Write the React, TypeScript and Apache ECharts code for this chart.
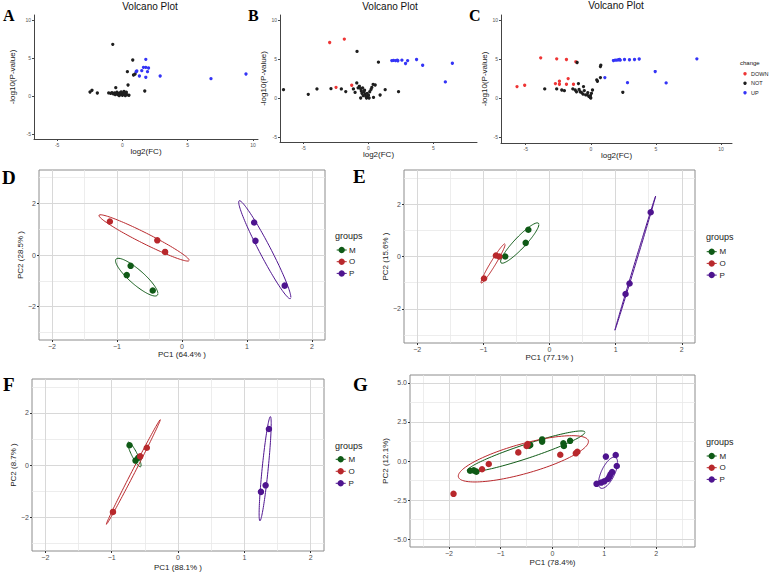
import React, { useEffect, useRef } from 'react';
import * as echarts from 'echarts';

const FONT = '"Liberation Sans", Arial, sans-serif';
const SERIF = '"Liberation Serif", "Times New Roman", serif';

// ---------- volcano data: [log2(FC), -log10(P)] ----------
const A_UP = [[1.79,4.82],[1.61,3.77],[1.79,3.77],[2.0,3.68],[1.1,3.29],[1.05,3.2],[1.48,3.33],[1.3,2.63],[1.79,2.46],[1.92,3.2],[2.89,2.63],[6.78,2.28],[9.46,2.9]];
const A_NOT = [[-0.74,6.8],[0.79,4.74],[0.38,3.2],[0.85,2.76],[0.97,2.9],[0.43,1.45],[-0.51,1.1],[1.71,0.66],[-2.48,0.53],[-2.33,0.75],[-1.92,0.39],[-1.05,0.4],[-0.9,0.35],[-0.8,0.45],[-0.7,0.3],[-0.6,0.4],[-0.5,0.3],[-0.42,0.5],[-0.35,0.2],[-0.28,0.35],[-0.2,0.15],[-0.15,0.45],[-0.08,0.25],[0,0.1],[0.05,0.4],[0.12,0.6],[0.16,0.2],[0.22,0.05],[0.28,0.3],[0.35,0.15],[-0.25,0.05],[0.08,0.3],[-0.55,0.2],[-0.1,0.55],[0.3,0.5],[0.5,0.1]];
const A_DOWN: number[][] = [];

const B_DOWN = [[-2.99,7.12],[-1.86,7.55],[-2.5,1.37],[-1.29,1.63]];
const B_NOT = [[-0.88,5.97],[0.77,4.59],[-6.55,1.07],[-4.64,0.47],[-3.97,1.16],[-2.89,1.2],[-2.09,1.16],[-1.75,0.82],[-1.16,1.16],[-1.03,0.72],[-0.9,1.93],[-0.8,1.3],[-0.7,1.5],[-0.6,1.2],[-0.55,0.9],[-0.5,0.6],[-0.45,1.3],[-0.4,0.3],[-0.35,0.8],[-0.3,1.0],[-0.25,0.5],[-0.2,0.2],[-0.1,0.6],[-0.05,0.1],[0,0.35],[0.05,0.0],[0.1,0.8],[0.26,1.36],[0.36,1.75],[0.52,1.67],[1.29,1.07],[0.9,0.39],[0.39,0.08],[2.32,0.81],[-0.6,0.0],[-0.15,0.0],[0.2,1.1]];
const B_UP = [[1.8,4.8],[1.93,4.82],[2.09,4.8],[2.22,4.85],[2.27,4.78],[2.58,4.85],[2.86,4.42],[3.02,4.8],[3.71,4.94],[4.18,4.2],[6.47,4.46],[5.93,2.06]];

const C_DOWN = [[-3.85,5.15],[-2.62,5.02],[-1.87,4.94],[-1.15,4.64],[-5.67,1.46],[-5.08,1.63],[-2.72,1.85],[-2.41,2.15],[-2.41,1.76],[-1.74,2.49],[-1.87,1.76],[-1.33,1.76]];
const C_NOT = [[-1.05,4.55],[0.77,4.2],[0.74,4.03],[0.74,2.62],[0.46,2.32],[0.51,2.15],[-0.95,1.85],[-0.56,1.46],[-3.54,1.16],[-2.62,1.16],[-2.23,1.03],[-2.03,0.94],[-1.38,1.16],[-1.2,1.03],[-1.1,0.8],[-0.82,0.8],[-0.6,0.5],[-0.4,0.4],[-0.28,0.4],[-0.15,0.2],[-0.05,0.09],[0,0],[-0.03,0.3],[0.13,1.03],[-0.23,0.69],[-0.5,0.95],[-0.7,0.69],[2.46,0.73],[0.05,0.6],[-0.9,1.1]];
const C_UP = [[1.74,4.8],[1.87,4.85],[2.0,4.85],[2.13,4.9],[2.21,4.95],[2.26,4.85],[2.59,4.93],[2.97,4.9],[3.36,4.93],[3.72,5.0],[8.15,5.02],[4.95,3.39],[1.08,2.62],[2.82,1.97],[5.79,1.93]];

const VOLCANO_TICKS = [-5, 0, 5, 10];
const CHANGE_LEVELS = ['DOWN', 'NOT', 'UP'];

// ---------- PCA data: [PC1, PC2] ----------
const D_M = [[-0.79,-0.42],[-0.85,-0.78],[-0.45,-1.38]];
const D_O = [[-1.11,1.3],[-0.38,0.57],[-0.26,0.12]];
const D_P = [[1.11,1.26],[1.13,0.55],[1.58,-1.19]];

const E_M = [[-0.67,0],[-0.36,0.52],[-0.32,1.02]];
const E_O = [[-0.99,-0.84],[-0.81,0.04],[-0.76,0.0]];
const E_P = [[1.15,-1.43],[1.21,-1.03],[1.53,1.69]];

const F_M = [[-0.73,0.76],[-0.64,0.17],[-0.6,0.28]];
const F_O = [[-0.98,-1.8],[-0.57,0.33],[-0.47,0.66]];
const F_P = [[1.25,-1.03],[1.32,-0.78],[1.37,1.38]];

const G_M = [[-1.59,-0.62],[-1.47,-0.68],[-1.52,-0.6],[-0.43,1.02],[-0.45,0.98],[-0.2,1.38],[-0.2,1.24],[0.21,1.13],[0.22,0.96],[0.34,1.29]];
const G_O = [[-1.91,-2.1],[-1.36,-0.53],[-1.23,-0.19],[-0.66,0.55],[-0.5,0.96],[-0.48,1.08],[0.15,0.4],[0.45,0.49],[0.48,0.59]];
const G_P = [[1.03,0.28],[1.22,0.38],[1.24,-0.32],[1.12,-0.85],[1.1,-1.0],[1.07,-1.15],[1.0,-1.3],[0.94,-1.38],[0.85,-1.46],[1.15,-0.7]];

const GROUPS = ['M', 'O', 'P'];
const PCA_LABELS = [
  { x: 'PC1 (64.4% )', y: 'PC2 (28.5% )' },
  { x: 'PC1 (77.1% )', y: 'PC2 (15.6% )' },
  { x: 'PC1 (88.1% )', y: 'PC2 (8.7% )' },
  { x: 'PC1 (78.4%)', y: 'PC2 (12.1%)' },
];
const PCA_X_MAJOR = [-2, -1, 0, 1, 2];
const PCA_X_MINOR = [-1.5, -0.5, 0.5, 1.5];
const PCA_Y_MAJOR = [-2, 0, 2];
const PCA_Y_MINOR = [-3, -1, 1, 3];
const G_X_MINOR = [-2.5, -1.5, -0.5, 0.5, 1.5, 2.5];
const G_Y_MAJOR = [-5, -2.5, 0, 2.5, 5];
const G_Y_MINOR = [-3.75, -1.25, 1.25, 3.75];
const ELLIPSE_LEVEL = 0.68;

const VOLC_COLORS: Record<string, string> = { DOWN: '#ee3535', NOT: '#1e1e1e', UP: '#3434f6' };
const GROUP_COLORS: Record<string, string> = { M: '#0f5a16', O: '#b8282c', P: '#4e148f' };

function ellipse(pts: number[][], level: number, seg = 120): number[][] {
  const n = pts.length;
  const mx = pts.reduce((s, p) => s + p[0], 0) / n;
  const my = pts.reduce((s, p) => s + p[1], 0) / n;
  let sxx = 0, syy = 0, sxy = 0;
  pts.forEach(p => {
    sxx += (p[0] - mx) ** 2;
    syy += (p[1] - my) ** 2;
    sxy += (p[0] - mx) * (p[1] - my);
  });
  sxx /= n - 1; syy /= n - 1; sxy /= n - 1;
  const a = Math.sqrt(sxx);
  const b = sxy / a;
  const c = Math.sqrt(Math.max(syy - b * b, 0));
  const r = Math.sqrt(-2 * Math.log(1 - level));
  const out: number[][] = [];
  for (let i = 0; i <= seg; i++) {
    const t = (2 * Math.PI * i) / seg;
    const u = Math.cos(t), v = Math.sin(t);
    out.push([mx + r * a * u, my + r * (b * u + c * v)]);
  }
  return out;
}

const minusFmt = (dec: number) => (v: number) => (v < 0 ? '\u2212' : '') + Math.abs(v).toFixed(dec);

export default function App() {
  const ref = useRef<HTMLDivElement>(null);
  useEffect(() => {
    if (!ref.current) return;
    const chart = echarts.init(ref.current, undefined, { renderer: 'svg' });

    const grids = [
      { left: 34, top: 15, width: 224, height: 124 },
      { left: 280, top: 15, width: 197, height: 127 },
      { left: 501, top: 15, width: 231, height: 128 },
      { left: 39, top: 170, width: 286, height: 170 },
      { left: 404, top: 170, width: 291, height: 173 },
      { left: 32, top: 379, width: 292, height: 172 },
      { left: 410, top: 375, width: 285, height: 172 },
    ];
    const volc = [
      { x: [-6.77, 10.38], y: [-5.66, 10.66], xGap: 8.5, yGap: 18 },
      { x: [-6.82, 8.37], y: [-5.64, 10.64], xGap: 8, yGap: 11 },
      { x: [-6.9, 10.85], y: [-5.77, 10.64], xGap: 7.5, yGap: 8.5 },
    ];
    const pca = [
      { x: [-2.2, 2.2], y: [-3.3, 3.3], xGap: 10.5, yGap: 13, yt: PCA_Y_MAJOR, ym: PCA_Y_MINOR, xm: PCA_X_MINOR, dec: 0 },
      { x: [-2.2, 2.2], y: [-3.3, 3.3], xGap: 10.5, yGap: 13.5, yt: PCA_Y_MAJOR, ym: PCA_Y_MINOR, xm: PCA_X_MINOR, dec: 0 },
      { x: [-2.2, 2.2], y: [-3.3, 3.3], xGap: 12, yGap: 13, yt: PCA_Y_MAJOR, ym: PCA_Y_MINOR, xm: PCA_X_MINOR, dec: 0 },
      { x: [-2.75, 2.75], y: [-5.5, 5.5], xGap: 11.5, yGap: 18.5, yt: G_Y_MAJOR, ym: G_Y_MINOR, xm: G_X_MINOR, dec: 1 },
    ];

    const xAxis: any[] = [];
    const yAxis: any[] = [];
    volc.forEach((v, i) => {
      xAxis.push({
        type: 'value', gridIndex: i, min: v.x[0], max: v.x[1], position: 'bottom',
        name: 'log2(FC)', nameLocation: 'middle', nameGap: v.xGap,
        nameTextStyle: { fontSize: 8, color: '#1a1a1a', fontFamily: FONT },
        axisLine: { show: true, onZero: false, lineStyle: { color: '#444', width: 1 } },
        axisTick: { show: true, length: 2, customValues: VOLCANO_TICKS, lineStyle: { color: '#444' } },
        axisLabel: { customValues: VOLCANO_TICKS, fontSize: 5, color: '#555', margin: 3, fontFamily: FONT },
        splitLine: { show: false },
      });
      yAxis.push({
        type: 'value', gridIndex: i, min: v.y[0], max: v.y[1], position: 'left',
        name: '-log10(P-value)', nameLocation: 'middle', nameGap: v.yGap, nameRotate: 90,
        nameTextStyle: { fontSize: 8, color: '#1a1a1a', fontFamily: FONT },
        axisLine: { show: true, onZero: false, lineStyle: { color: '#444', width: 1 } },
        axisTick: { show: true, length: 2, customValues: VOLCANO_TICKS, lineStyle: { color: '#444' } },
        axisLabel: { customValues: VOLCANO_TICKS, fontSize: 5, color: '#555', margin: 3, fontFamily: FONT },
        splitLine: { show: false },
      });
    });
    pca.forEach((p, k) => {
      const gi = k + 3;
      xAxis.push({
        type: 'value', gridIndex: gi, min: p.x[0], max: p.x[1], position: 'bottom',
        name: PCA_LABELS[k].x, nameLocation: 'middle', nameGap: p.xGap,
        nameTextStyle: { fontSize: 8, color: '#1a1a1a', fontFamily: FONT },
        axisLine: { show: false, onZero: false },
        axisTick: { show: true, length: 2, customValues: PCA_X_MAJOR, lineStyle: { color: '#333' } },
        axisLabel: { customValues: PCA_X_MAJOR, fontSize: 7, color: '#4d4d4d', margin: 3, fontFamily: FONT, formatter: minusFmt(0) },
        splitLine: { show: false },
        minorSplitLine: { show: false },
      });
      yAxis.push({
        type: 'value', gridIndex: gi, min: p.y[0], max: p.y[1], position: 'left',
        name: PCA_LABELS[k].y, nameLocation: 'middle', nameGap: p.yGap, nameRotate: 90,
        nameTextStyle: { fontSize: 8, color: '#1a1a1a', fontFamily: FONT },
        axisLine: { show: false, onZero: false },
        axisTick: { show: true, length: 2, customValues: p.yt, lineStyle: { color: '#333' } },
        axisLabel: { customValues: p.yt, fontSize: 7, color: '#4d4d4d', margin: 3, fontFamily: FONT, formatter: minusFmt(p.dec) },
        splitLine: { show: false },
        minorSplitLine: { show: false },
      });
    });

    const series: any[] = [];
    const volcData = [
      { DOWN: A_DOWN, NOT: A_NOT, UP: A_UP },
      { DOWN: B_DOWN, NOT: B_NOT, UP: B_UP },
      { DOWN: C_DOWN, NOT: C_NOT, UP: C_UP },
    ];
    volcData.forEach((d: any, i) => {
      CHANGE_LEVELS.forEach(lv => {
        series.push({
          type: 'scatter', name: lv, xAxisIndex: i, yAxisIndex: i, data: d[lv],
          symbolSize: 3.3, itemStyle: { color: VOLC_COLORS[lv], opacity: 1 }, silent: true,
        });
      });
    });

    const pcaData = [
      { M: D_M, O: D_O, P: D_P },
      { M: E_M, O: E_O, P: E_P },
      { M: F_M, O: F_O, P: F_P },
      { M: G_M, O: G_O, P: G_P },
    ];
    pcaData.forEach((d: any, k) => {
      const gi = k + 3;
      const p = pca[k];
      const vLine = (v: number) => ({ coords: [[v, p.y[0]], [v, p.y[1]]] });
      const hLine = (v: number) => ({ coords: [[p.x[0], v], [p.x[1], v]] });
      series.push({
        type: 'lines', name: 'minor grid', coordinateSystem: 'cartesian2d', xAxisIndex: gi, yAxisIndex: gi,
        data: [...p.xm.filter(v => v > p.x[0] && v < p.x[1]).map(vLine), ...p.ym.map(hLine)],
        lineStyle: { color: '#e8e8e8', width: 0.8, opacity: 1 }, silent: true, z: 0,
      });
      series.push({
        type: 'lines', name: 'major grid', coordinateSystem: 'cartesian2d', xAxisIndex: gi, yAxisIndex: gi,
        data: [...PCA_X_MAJOR.map(vLine), ...p.yt.map(hLine)],
        lineStyle: { color: '#d8d8d8', width: 1, opacity: 1 }, silent: true, z: 0,
      });
      GROUPS.forEach(g => {
        series.push({
          type: 'line', name: g + ' ellipse', xAxisIndex: gi, yAxisIndex: gi,
          data: ellipse(d[g], ELLIPSE_LEVEL), showSymbol: false, silent: true, z: 2,
          lineStyle: { color: GROUP_COLORS[g], width: 1 },
        });
      });
      GROUPS.forEach(g => {
        series.push({
          type: 'scatter', name: g, xAxisIndex: gi, yAxisIndex: gi, data: d[g],
          symbolSize: 6.5, itemStyle: { color: GROUP_COLORS[g], opacity: 1 }, silent: true, z: 3,
        });
      });
    });

    const graphic: any[] = [];
    const letter = (t: string, x: number, y: number, size: number) => graphic.push({
      type: 'text', x, y, style: { text: t, font: `bold ${size}px ${SERIF}`, fill: '#000', verticalAlign: 'middle', align: 'left' },
    });
    letter('A', 3, 15.5, 16); letter('B', 248, 15.5, 16); letter('C', 469, 15.5, 16);
    letter('D', 2, 177, 19); letter('E', 353, 176.5, 19);
    letter('F', 3, 384.5, 19); letter('G', 353, 384.5, 19);

    [[150, 6], [390, 6], [616, 5.5]].forEach(([x, y]) => graphic.push({
      type: 'text', x, y, style: { text: 'Volcano Plot', font: `10px ${FONT}`, fill: '#111', align: 'center', verticalAlign: 'middle' },
    }));

    // change legend (panel C)
    graphic.push({ type: 'text', x: 740, y: 63, style: { text: 'change', font: `6px ${FONT}`, fill: '#111', verticalAlign: 'middle' } });
    CHANGE_LEVELS.forEach((lv, i) => {
      const y = 73.8 + i * 9.5;
      graphic.push({ type: 'circle', shape: { cx: 745, cy: y, r: 1.7 }, style: { fill: VOLC_COLORS[lv] } });
      graphic.push({ type: 'text', x: 751, y, style: { text: lv, font: `5.5px ${FONT}`, fill: '#222', verticalAlign: 'middle' } });
    });

    // groups legends (panels D-G)
    const legends = [
      { tx: 335, ty: 236, kx: 341.7, y0: 250, dy: 11.7, lx: 349 },
      { tx: 706, ty: 237, kx: 711.7, y0: 251.7, dy: 11.7, lx: 719.5 },
      { tx: 335, ty: 446, kx: 340.7, y0: 459.3, dy: 12, lx: 348.5 },
      { tx: 706, ty: 441.7, kx: 711.7, y0: 456, dy: 11.7, lx: 719.5 },
    ];
    legends.forEach(L => {
      graphic.push({ type: 'text', x: L.tx, y: L.ty, style: { text: 'groups', font: `9px ${FONT}`, fill: '#1a1a1a', verticalAlign: 'middle' } });
      GROUPS.forEach((g, i) => {
        const y = L.y0 + i * L.dy;
        graphic.push({ type: 'line', shape: { x1: L.kx - 5, y1: y, x2: L.kx + 5, y2: y }, style: { stroke: GROUP_COLORS[g], lineWidth: 1 } });
        graphic.push({ type: 'circle', shape: { cx: L.kx, cy: y, r: 3.2 }, style: { fill: GROUP_COLORS[g] } });
        graphic.push({ type: 'text', x: L.lx, y, style: { text: g, font: `8px ${FONT}`, fill: '#1a1a1a', verticalAlign: 'middle' } });
      });
    });

    chart.setOption({
      animation: false,
      backgroundColor: '#ffffff',
      grid: grids.map((g, i) => ({
        ...g,
        containLabel: false,
        show: i >= 3,
        borderColor: '#8c8c8c',
        borderWidth: 1,
        backgroundColor: 'transparent',
      })),
      xAxis, yAxis, series, graphic,
    });
    return () => chart.dispose();
  }, []);
  return <div ref={ref} style={{ position: 'absolute', left: 0, top: 0, width: 769, height: 574 }} />;
}
